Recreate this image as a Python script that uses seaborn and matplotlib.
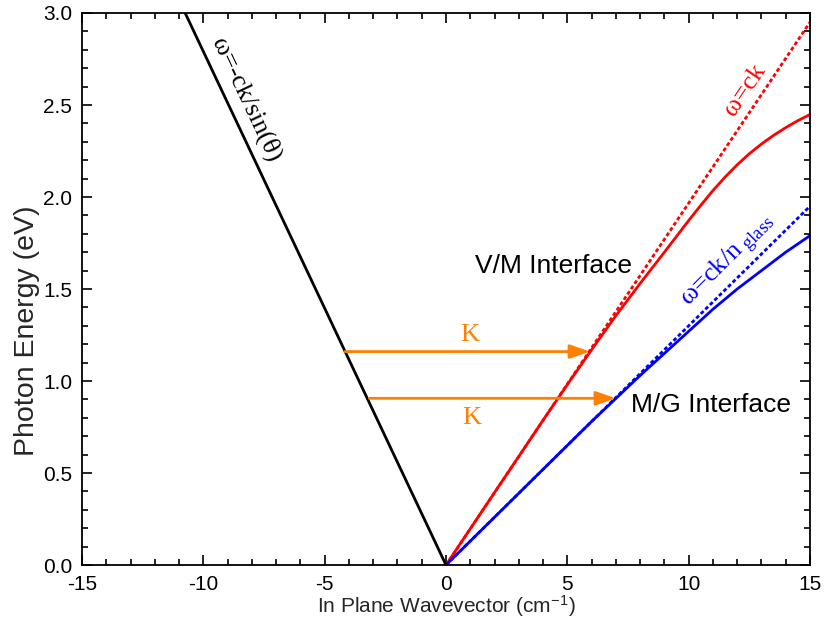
import matplotlib
matplotlib.use("Agg")
import matplotlib.pyplot as plt
import seaborn as sns
import pandas as pd
import numpy as np

# ---- data ----
vm_k = [0, 1, 2, 3, 4, 5, 6, 7, 8, 9, 10, 10.5, 11, 11.5, 12, 12.5,
        13, 13.5, 14, 14.5, 15]
vm_spp = [0, 0.197, 0.394, 0.59, 0.787, 0.98, 1.17, 1.355, 1.53, 1.70,
          1.872, 1.955, 2.035, 2.108, 2.175, 2.235, 2.288, 2.335, 2.377, 2.415, 2.448]
mg_k = [0, 1, 2, 3, 4, 5, 6, 7, 8, 9, 10, 11, 12, 13, 14, 15]
mg_spp = [0, 0.13, 0.26, 0.39, 0.52, 0.65, 0.78, 0.905, 1.03, 1.15,
          1.27, 1.39, 1.50, 1.60, 1.70, 1.79]
light_k = [0, 15]
light_vac = [0, 2.95]
light_glass = [0, 1.95]
prism_k = [0, -10.75]
prism_e = [0, 3.0]

# momentum-matching arrows: (start k, end k, energy)
arrow_start = [-4.16, -3.16]
arrow_end = [5.93, 7.0]
arrow_energy = [1.16, 0.906]

xticks = [-15, -10, -5, 0, 5, 10, 15]
yticks = [0.0, 0.5, 1.0, 1.5, 2.0, 2.5, 3.0]

RED = "#FF0000"
BLUE = "#0000FF"
ORANGE = "#FF8000"

sns.set_theme(style="ticks")
plt.rcParams["font.family"] = ["Liberation Sans", "DejaVu Sans"]
plt.rcParams["mathtext.fontset"] = "stix"

fig = plt.figure(figsize=(8.26, 6.34), dpi=100)
ax = fig.add_axes([0.0993, 0.1088, 0.8813, 0.8707])

df_vm = pd.DataFrame({"k": vm_k, "E": vm_spp})
df_mg = pd.DataFrame({"k": mg_k, "E": mg_spp})
df_lv = pd.DataFrame({"k": light_k, "E": light_vac})
df_lg = pd.DataFrame({"k": light_k, "E": light_glass})
df_pr = pd.DataFrame({"k": prism_k, "E": prism_e})

dot = (0, (1.4, 0.9))
sns.lineplot(data=df_lv, x="k", y="E", ax=ax, color=RED, lw=2.0,
             linestyle=dot, sort=False)
sns.lineplot(data=df_lg, x="k", y="E", ax=ax, color=BLUE, lw=2.0,
             linestyle=dot, sort=False)
sns.lineplot(data=df_vm, x="k", y="E", ax=ax, color=RED, lw=2.0, sort=False)
sns.lineplot(data=df_mg, x="k", y="E", ax=ax, color=BLUE, lw=2.0, sort=False)
sns.lineplot(data=df_pr, x="k", y="E", ax=ax, color="black", lw=2.0, sort=False)

for s, e, en in zip(arrow_start, arrow_end, arrow_energy):
    ax.annotate("", xy=(e, en), xytext=(s, en),
                arrowprops=dict(arrowstyle="-|>,head_length=1.0,head_width=0.35",
                                color=ORANGE, lw=2.0, shrinkA=0, shrinkB=0))

serif = ["Liberation Serif", "DejaVu Serif"]
ax.text(0.96, 1.25, "K", color=ORANGE, fontsize=19, family=serif,
        ha="center", va="center")
ax.text(1.06, 0.80, "K", color=ORANGE, fontsize=19, family=serif,
        ha="center", va="center")

ax.text(-8.21, 2.53, "ω=-ck/sin(θ)", color="black", fontsize=19, family=serif,
        rotation=-64.7, rotation_mode="anchor", ha="center", va="center")
ax.text(12.32, 2.58, "ω=ck", color=RED, fontsize=19, family=serif,
        rotation=56, rotation_mode="anchor", ha="center", va="center")
ax.text(11.62, 1.65, "ω=ck/n$_{\\ \\mathregular{glass}}$", color=BLUE,
        fontsize=19, family=serif, rotation=45, rotation_mode="anchor",
        ha="center", va="center")

ax.text(4.41, 1.625, "V/M Interface", color="black", fontsize=19,
        ha="center", va="center")
ax.text(10.94, 0.87, "M/G Interface", color="black", fontsize=19,
        ha="center", va="center")

ax.set_xlim(-15, 15)
ax.set_ylim(0, 3.0)
ax.set_xticks(xticks)
ax.set_yticks(yticks)
ax.set_xticklabels([str(t) for t in xticks])
ax.set_yticklabels([f"{t:.1f}" for t in yticks])
ax.xaxis.set_minor_locator(matplotlib.ticker.MultipleLocator(1))
ax.yaxis.set_minor_locator(matplotlib.ticker.MultipleLocator(0.1))
ax.tick_params(which="both", direction="in", top=True, right=True,
               width=1.2, colors="black")
ax.tick_params(which="major", length=7, labelsize=15, pad=7)
ax.tick_params(which="minor", length=4)
for sp in ax.spines.values():
    sp.set_linewidth(1.3)
    sp.set_color("black")
    sp.set_visible(True)

ax.set_xlabel("In Plane Wavevector (cm$^{\\mathregular{-1}}$)", fontsize=15)
ax.set_ylabel("Photon Energy (eV)", fontsize=20.5)
ax.xaxis.set_label_coords(0.5, -0.052)
ax.yaxis.set_label_coords(-0.058, 0.425)

fig.savefig("out.png", dpi=100)
